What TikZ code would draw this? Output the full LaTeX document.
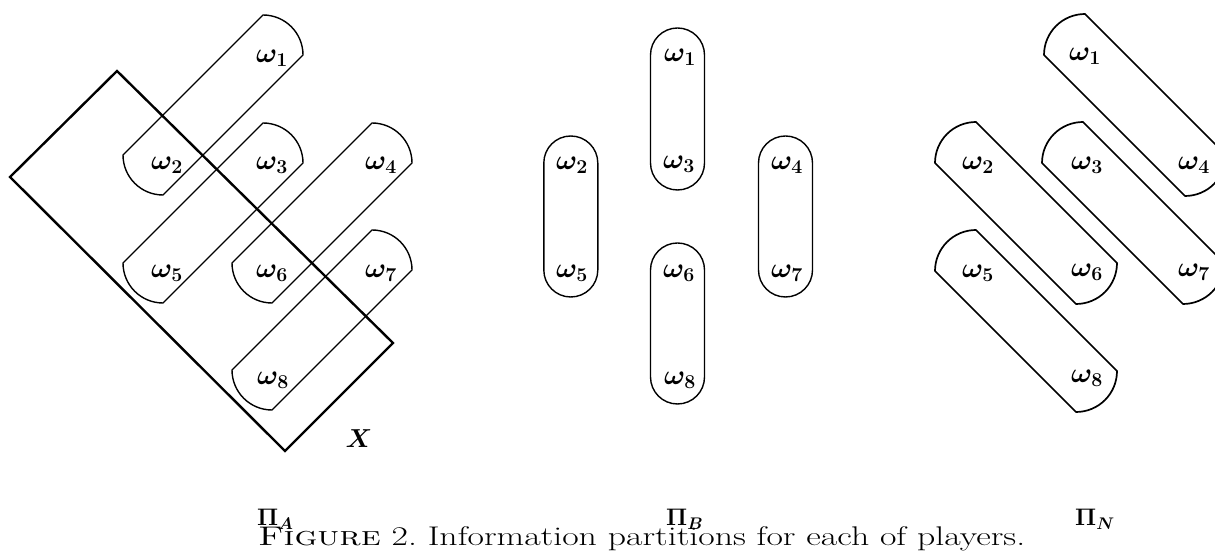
\RequirePackage{fix-cm}
\documentclass[tikz,border=0pt]{standalone}
\usepackage{graphicx}
\usetikzlibrary{calc}

% capsule running up-right: lower-left cap centre (#1,#2), cap radius #3
\newcommand\capUR[3]{%
  \draw[capsule] (#1-#3,#2) -- (#1+100,#2+100+#3)
    arc[start angle=90,end angle=0,radius=#3]
    -- (#1,#2-#3) arc[start angle=270,end angle=180,radius=#3] -- cycle;}
% capsule running down-right: upper-left cap centre (#1,#2), cap radius #3
\newcommand\capDR[3]{%
  \draw[capsule,line width=1.7pt] (#1,#2+#3) -- (#1+100+#3,#2-100)
    arc[start angle=0,end angle=-90,radius=#3]
    -- (#1-#3,#2) arc[start angle=180,end angle=90,radius=#3] -- cycle;}
% vertical capsule centred on x=#1 from y=#2 (bottom) to y=#3 (top)
\newcommand\capV[3]{%
  \draw[capsule,rounded corners=27pt] (#1-27,#2) rectangle (#1+27,#3);}

\begin{document}
\begin{tikzpicture}[x=1pt,y=1pt,
  capsule/.style={line width=1.4pt,line join=round},
  event/.style={inner sep=0pt,font=\fontsize{28}{34}\selectfont\boldmath},
  setbox/.style={line width=2.4pt,line join=miter},
  plabel/.style={inner sep=0pt,anchor=base west,font=\fontsize{24}{29}\selectfont\boldmath},
  caption/.style={inner sep=0pt,anchor=base west,font=\fontsize{27}{32}\selectfont}]
\useasboundingbox (0,0) rectangle (1215,553);
\clip (0,0) rectangle (1215,553);

% ---- partition of player A ----
\capUR{163}{398}{40}
\capUR{163}{290}{40}
\capUR{272}{290}{40}
\capUR{272}{183}{40}
\draw[setbox] (10,376) -- (117,482) -- (393,210) -- (285,102) -- cycle;
\node[inner sep=0pt,font=\fontsize{26}{31}\selectfont\boldmath] (X) at (359,114) {$X$};
\node[event] (a1) at (272,495) {$\omega_1$};
\node[event] (a2) at (167,388) {$\omega_2$};
\node[event] (a3) at (272,388) {$\omega_3$};
\node[event] (a4) at (381,388) {$\omega_4$};
\node[event] (a5) at (167,280) {$\omega_5$};
\node[event] (a6) at (272,280) {$\omega_6$};
\node[event] (a7) at (381,280) {$\omega_7$};
\node[event] (a8) at (273,173) {$\omega_8$};

% ---- partition of player B ----
\capV{677.5}{363}{525}
\capV{677.5}{149}{310}
\capV{570.8}{256}{417}
\capV{785.5}{256}{417}
\node[event] (b1) at (680,496) {$\omega_1$};
\node[event] (b2) at (572,388) {$\omega_2$};
\node[event] (b3) at (679,389) {$\omega_3$};
\node[event] (b4) at (787,388) {$\omega_4$};
\node[event] (b5) at (572,280) {$\omega_5$};
\node[event] (b6) at (679,280) {$\omega_6$};
\node[event] (b7) at (787,280) {$\omega_7$};
\node[event] (b8) at (680,173) {$\omega_8$};

% ---- partition of player N ----
\capDR{1085}{498}{41}
\capDR{976}{390}{41}
\capDR{1083}{390}{41}
\capDR{976}{282}{41}
\node[event] (n1) at (1085,497) {$\omega_1$};
\node[event] (n2) at (978,388) {$\omega_2$};
\node[event] (n3) at (1087,388) {$\omega_3$};
\node[event] (n4) at (1194,388) {$\omega_4$};
\node[event] (n5) at (978,280) {$\omega_5$};
\node[event] (n6) at (1087,281) {$\omega_6$};
\node[event] (n7) at (1194,281) {$\omega_7$};
\node[event] (n8) at (1087,175) {$\omega_8$};

% ---- labels and caption ----
\node[plabel] (piA) at (257,27) {$\Pi_A$};
\node[plabel] (piB) at (666,27) {$\Pi_B$};
\node[plabel] (piN) at (1075,27) {$\Pi_N$};
\node[caption] (cap) at (258,7)
  {\resizebox{767pt}{\height}{\textsc{Figure} 2.\ Information partitions for each of players.}};
\end{tikzpicture}
\end{document}
